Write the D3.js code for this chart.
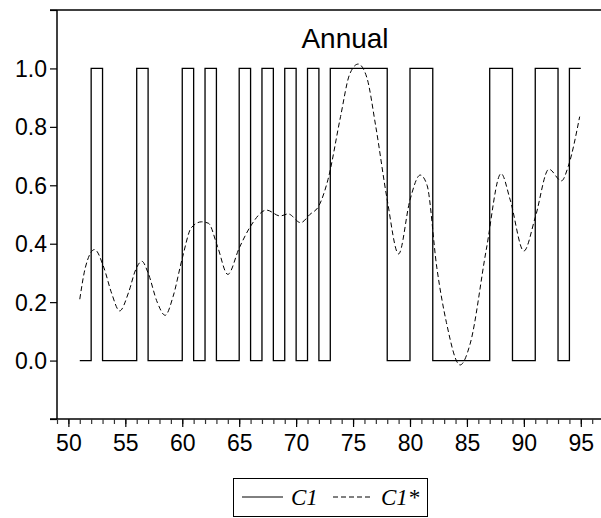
<!DOCTYPE html>
<html>
<head>
<meta charset="utf-8">
<script src="https://cdn.jsdelivr.net/npm/d3@7"></script>
<style>
  html, body { margin: 0; padding: 0; background: #fff; }
  svg { display: block; }
</style>
</head>
<body>
<div id="chart"></div>
<script>
// ---- Data ----
const years = d3.range(1951, 1996).map(y => y - 1900); // 51..95
const c1Values = [
  0, 1, 0, 0, 0, 1, 0, 0, 0, 1,   // 51-60
  0, 1, 0, 0, 1, 0, 1, 0, 1, 0,   // 61-70
  1, 0, 1, 1, 1, 1, 1, 0, 0, 1,   // 71-80
  1, 0, 0, 0, 0, 0, 1, 1, 0, 0,   // 81-90
  1, 1, 0, 1, 1                   // 91-95
];
const c1StarYears = [
  51.0, 51.5, 52.3, 53.1, 53.8, 54.5, 55.3, 55.9, 56.45, 57.0,
  57.8, 58.5, 59.2, 60.0, 60.8, 61.7, 62.3, 63.1, 64.0, 65.0,
  66.0, 67.4, 68.6, 69.3, 70.4, 71.2, 72.0, 72.8, 73.9, 74.7,
  75.45, 76.2, 77.0, 78.0, 79.0, 80.0, 80.9, 81.5, 82.35, 83.2,
  84.4, 85.3, 86.7, 88.0, 88.8, 90.0, 91.0, 92.2, 93.3, 93.9, 94.9
];
const c1StarValues = [
  0.21, 0.32, 0.38, 0.32, 0.23, 0.17, 0.235, 0.31, 0.34, 0.30,
  0.20, 0.155, 0.22, 0.35, 0.455, 0.475, 0.47, 0.39, 0.295, 0.385,
  0.46, 0.515, 0.495, 0.502, 0.472, 0.50, 0.53, 0.62, 0.835, 0.98,
  1.015, 0.97, 0.80, 0.55, 0.365, 0.55, 0.635, 0.60, 0.32, 0.13,
  -0.015, 0.06, 0.38, 0.64, 0.55, 0.375, 0.49, 0.655, 0.615, 0.665, 0.835
];
const yTickValues = [0.0, 0.2, 0.4, 0.6, 0.8, 1.0];
const xTickLabels = [50, 55, 60, 65, 70, 75, 80, 85, 90, 95];
const titleText = "Annual";
const legendLabels = ["C1", "C1*"];

// ---- Layout ----
const W = 601, H = 518;
const mLeft = 57, mRight = 601, mTop = 10, mBottom = 419;

const svg = d3.select("#chart").append("svg")
  .attr("width", W).attr("height", H);

const x = d3.scaleLinear().domain([49, 49 + (mRight - mLeft) / 11.387]).range([mLeft, mRight]);
const y = d3.scaleLinear().domain([-0.2, 1.2]).range([mBottom, mTop]);

const font = "'Liberation Sans', Arial, sans-serif";

// Frame: top line
svg.append("line")
  .attr("x1", mLeft - 7).attr("x2", mRight)
  .attr("y1", y(1.2)).attr("y2", y(1.2))
  .attr("stroke", "#000").attr("stroke-width", 1.5);

// Y axis
const yAxis = d3.axisLeft(y)
  .tickValues([-0.2, ...yTickValues, 1.2])
  .tickSize(7)
  .tickFormat(d => yTickValues.some(v => Math.abs(v - d) < 1e-9) ? d3.format(".1f")(d) : "");
const gy = svg.append("g").attr("transform", `translate(${mLeft},0)`).call(yAxis);
gy.select(".domain").attr("stroke-width", 1.5).attr("d", `M0,${mTop}V${mBottom}`);
gy.selectAll(".tick line").attr("stroke-width", 1.2);
gy.selectAll(".tick text").attr("font-family", font).attr("font-size", 23)
  .attr("fill", "#000").attr("x", -10).attr("dy", "0.35em");

// X axis: minor ticks every year, major every 5
const xMinor = d3.axisBottom(x).tickValues(d3.range(49, 97)).tickSize(5).tickFormat("");
const gxm = svg.append("g").attr("transform", `translate(0,${mBottom})`).call(xMinor);
gxm.select(".domain").attr("stroke-width", 1.5).attr("d", `M${mLeft - 7},0H${mRight}`);
gxm.selectAll(".tick line").attr("stroke-width", 1.2).attr("stroke", "#333");

const xMajor = d3.axisBottom(x).tickValues(xTickLabels).tickSize(8).tickFormat(d3.format("d"));
const gx = svg.append("g").attr("transform", `translate(0,${mBottom})`).call(xMajor);
gx.select(".domain").remove();
gx.selectAll(".tick line").attr("stroke-width", 1.2);
gx.selectAll(".tick text").attr("font-family", font).attr("font-size", 23)
  .attr("fill", "#000").attr("y", 16);

// C1 step line
const stepLine = d3.line()
  .x((d, i) => x(years[i]))
  .y(d => y(d))
  .curve(d3.curveStepAfter);
svg.append("path")
  .datum(c1Values)
  .attr("d", stepLine)
  .attr("fill", "none").attr("stroke", "#000").attr("stroke-width", 1.3);

// C1* dashed smooth
const smoothLine = d3.line()
  .x((d, i) => x(c1StarYears[i]))
  .y(d => y(d))
  .curve(d3.curveMonotoneX);
svg.append("path")
  .datum(c1StarValues)
  .attr("d", smoothLine)
  .attr("fill", "none").attr("stroke", "#000").attr("stroke-width", 1)
  .attr("stroke-dasharray", "5,3");

// Title
svg.append("text")
  .attr("x", 345).attr("y", 48)
  .attr("text-anchor", "middle")
  .attr("font-family", font).attr("font-size", 28)
  .text(titleText);

// Legend
const lg = svg.append("g");
lg.append("rect").attr("x", 233.5).attr("y", 478.5).attr("width", 194).attr("height", 38)
  .attr("fill", "none").attr("stroke", "#000").attr("stroke-width", 1);
lg.append("line").attr("x1", 242).attr("x2", 283).attr("y1", 497).attr("y2", 497)
  .attr("stroke", "#000").attr("stroke-width", 1);
lg.append("text").attr("x", 291).attr("y", 505)
  .attr("font-family", "'Liberation Serif', 'Times New Roman', serif")
  .attr("font-style", "italic").attr("font-size", 23).text(legendLabels[0]);
lg.append("line").attr("x1", 333).attr("x2", 371).attr("y1", 497).attr("y2", 497)
  .attr("stroke", "#000").attr("stroke-width", 1).attr("stroke-dasharray", "5,3");
lg.append("text").attr("x", 381).attr("y", 505)
  .attr("font-family", "'Liberation Serif', 'Times New Roman', serif")
  .attr("font-style", "italic").attr("font-size", 23).text(legendLabels[1]);
</script>
</body>
</html>
